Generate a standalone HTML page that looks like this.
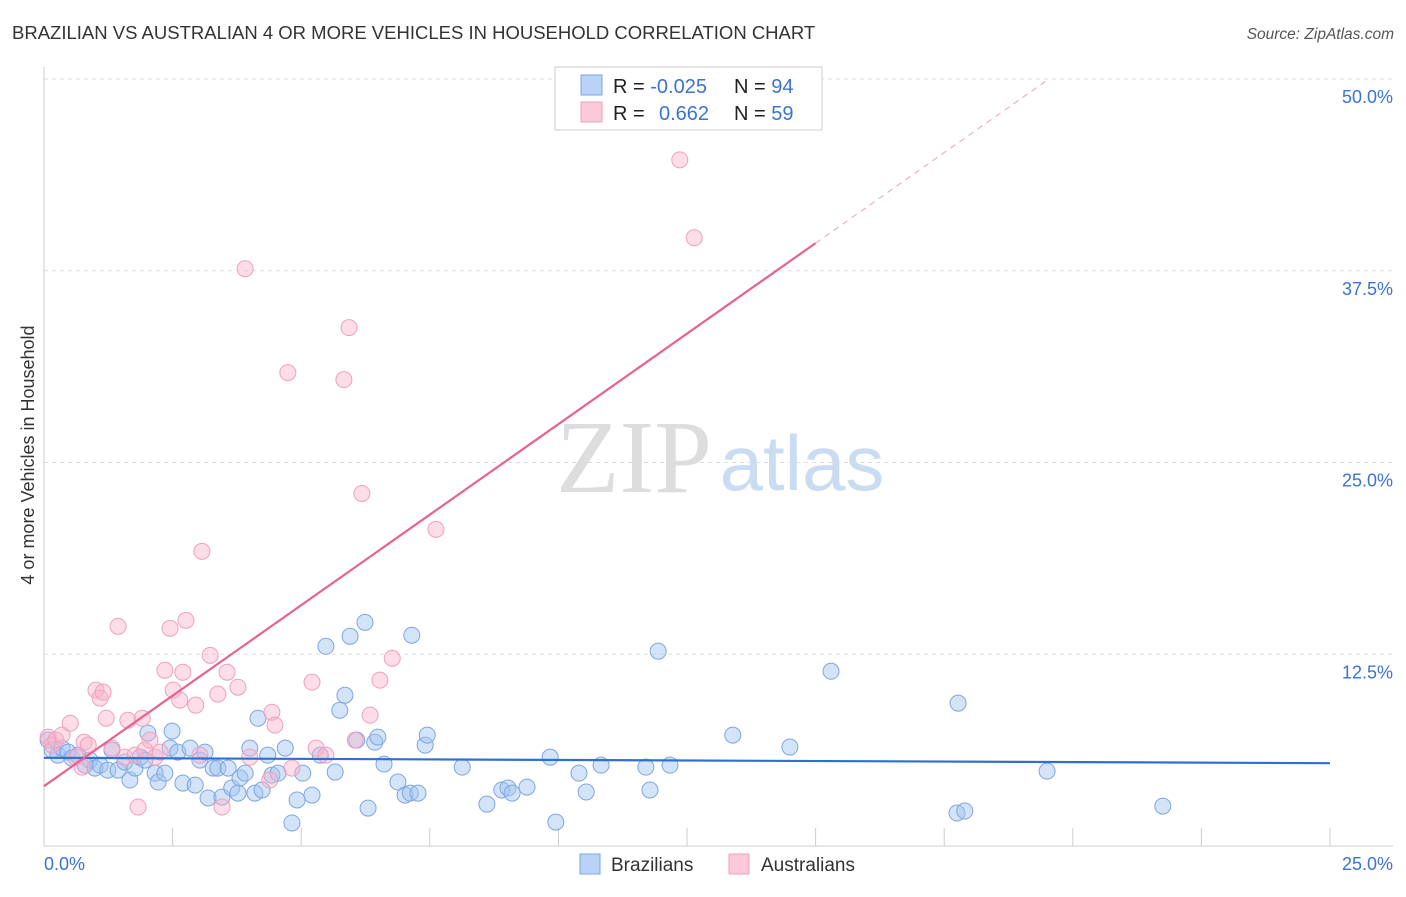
<!DOCTYPE html>
<html><head><meta charset="utf-8"><style>
body{margin:0;background:#fff;font-family:"Liberation Sans",sans-serif;}
svg text{font-family:"Liberation Sans",sans-serif;}
</style></head><body>
<svg id="chart" width="1406" height="892" xmlns="http://www.w3.org/2000/svg">
<text x="12" y="39" font-size="18.5" fill="#333">BRAZILIAN VS AUSTRALIAN 4 OR MORE VEHICLES IN HOUSEHOLD CORRELATION CHART</text>
<text x="1394" y="39" font-size="15.5" fill="#555" font-style="italic" text-anchor="end">Source: ZipAtlas.com</text>
<g>
<text x="634" y="492" font-size="104" fill="#ddd" text-anchor="middle" style="font-family:'Liberation Serif',serif">ZIP</text>
<text x="802" y="490" font-size="78" fill="#c9dcf2" text-anchor="middle">atlas</text>
</g>
<g id="grid"></g>
<g id="axes"></g>
<g id="marks"></g>
<text transform="translate(34,455) rotate(-90)" font-size="18" fill="#333" text-anchor="middle">4 or more Vehicles in Household</text>
<g>
<rect x="555" y="67" width="267" height="63" fill="#fff" stroke="#ccc"/>
<rect x="581" y="75" width="21" height="20" fill="#b9d3f6" stroke="#7ea6e0"/>
<rect x="581" y="102" width="21" height="20" fill="#fcc9d8" stroke="#f0a0bd"/>
<text x="613" y="93" font-size="20" fill="#222">R = <tspan fill="#3b73d1">-0.025</tspan></text>
<text x="734" y="93" font-size="20" fill="#222">N = <tspan fill="#3b73d1">94</tspan></text>
<text x="613" y="120" font-size="20" fill="#222">R = </text>
<text x="659" y="120" font-size="20" fill="#3b73d1">0.662</text>
<text x="734" y="120" font-size="20" fill="#222">N = <tspan fill="#3b73d1">59</tspan></text>
</g>
<g>
<rect x="580" y="854" width="20" height="20" fill="#b9d3f6" stroke="#7ea6e0"/>
<text x="611" y="871" font-size="19" fill="#333">Brazilians</text>
<rect x="729" y="854" width="20" height="20" fill="#fcc9d8" stroke="#f0a0bd"/>
<text x="761" y="871" font-size="19" fill="#333">Australians</text>
</g>
</svg>
<script>
const xTicks=[0,2.5,5,7.5,10,12.5,15,17.5,20,22.5,25];
const yTicks=[12.5,25,37.5,50];
const yTickLabels=["12.5%","25.0%","37.5%","50.0%"];
const braX=[0.08,0.16,0.27,0.35,0.47,0.54,0.66,0.80,0.89,0.99,1.09,1.24,1.32,1.44,1.57,1.67,1.77,1.87,1.96,2.02,2.16,2.22,2.35,2.45,2.49,2.60,2.70,2.84,2.94,3.03,3.13,3.19,3.29,3.38,3.46,3.58,3.65,3.77,3.81,3.91,4.00,4.10,4.16,4.24,4.35,4.43,4.55,4.69,4.82,4.92,5.03,5.21,5.37,5.48,5.66,5.75,5.85,5.95,6.08,6.24,6.30,6.43,6.49,6.61,6.88,7.02,7.12,7.15,7.27,7.41,7.45,8.13,8.61,8.90,9.02,9.10,9.39,9.84,9.95,10.40,10.54,10.83,11.70,11.78,11.94,12.17,13.39,14.50,15.30,17.75,17.77,17.90,19.50,21.75];
const braY=[6.9,6.25,5.92,6.38,6.12,5.73,5.92,5.27,5.6,5.08,5.27,4.95,6.25,4.95,5.47,4.3,5.08,5.79,5.6,7.36,4.75,4.17,4.75,6.38,7.49,6.12,4.1,6.38,3.97,5.6,6.12,3.13,5.08,5.08,3.19,5.08,3.78,3.45,4.43,4.75,6.38,3.45,8.33,3.65,5.92,4.62,4.75,6.38,1.5,3.0,4.75,3.32,5.92,13.02,4.82,8.85,9.83,13.67,6.9,14.58,2.47,6.77,7.1,5.34,4.17,3.32,3.45,13.74,3.45,6.58,7.23,5.14,2.73,3.65,3.78,3.45,3.84,5.79,1.56,4.75,3.52,5.27,5.14,3.65,12.7,5.27,7.23,6.45,11.39,2.15,9.31,2.28,4.88,2.6];
const ausX=[0.08,0.16,0.23,0.35,0.51,0.62,0.74,0.78,0.86,1.01,1.09,1.15,1.21,1.32,1.44,1.57,1.63,1.77,1.83,1.91,1.96,2.06,2.16,2.26,2.35,2.45,2.51,2.64,2.70,2.76,2.95,3.03,3.07,3.23,3.38,3.46,3.56,3.77,3.91,4.00,4.43,4.49,4.39,4.74,4.82,5.21,5.29,5.48,5.83,5.93,6.05,6.18,6.34,6.53,6.77,7.62,12.36,12.64];
const ausY=[7.1,6.58,6.9,7.23,8.0,5.79,5.14,6.77,6.58,10.16,9.64,10.03,8.33,6.38,14.32,5.79,8.2,5.92,2.54,8.33,6.25,6.9,5.79,6.12,11.46,14.19,10.16,9.51,11.33,14.71,9.18,5.92,19.21,12.43,9.9,2.54,11.33,10.35,37.63,5.79,8.72,7.88,4.3,30.86,5.08,10.68,6.38,5.92,30.4,33.79,6.9,22.98,8.53,10.81,12.24,20.64,44.73,39.65];
const braTrend=[5.75,5.4];
const ausTrend=[3.9,2.36];
const X=v=>44+v*(1286/25), Y=v=>846-v*(767/50);
const NS="http://www.w3.org/2000/svg";
function mk(p,t,a){const e=document.createElementNS(NS,t);for(const k in a)e.setAttribute(k,a[k]);p.appendChild(e);return e;}
const grid=document.getElementById('grid'),axes=document.getElementById('axes'),marks=document.getElementById('marks');
yTicks.forEach((t,i)=>{
 const l=mk(grid,'line',{x1:44,x2:1393,y1:Y(t),y2:Y(t),stroke:'#ddd','stroke-dasharray':'4,4'});
 
 
 const tx=mk(axes,'text',{x:1393,y:Y(t)+24,'font-size':18,fill:'#3b73d1','text-anchor':'end'});
 tx.textContent=yTickLabels[i];
 
 
});
const ya=mk(axes,'line',{x1:44,x2:44,y1:67,y2:846,stroke:'#ccc'});


const xa=mk(axes,'line',{x1:44,x2:1393,y1:846,y2:846,stroke:'#ccc'});


xTicks.forEach(t=>{const l=mk(axes,'line',{x1:X(t),x2:X(t),y1:828,y2:846,stroke:'#ccc'});
 
 });
let t0=mk(axes,'text',{x:44,y:870,'font-size':18,fill:'#3b73d1'});t0.textContent='0.0%';


let t1=mk(axes,'text',{x:1393,y:870,'font-size':18,fill:'#3b73d1','text-anchor':'end'});t1.textContent='25.0%';


braX.forEach((x,i)=>{const c=mk(marks,'circle',{cx:X(x),cy:Y(braY[i]),r:8,fill:'rgba(160,195,240,0.45)',stroke:'#7ea6e0','stroke-width':1});
 
 });
ausX.forEach((x,i)=>{const c=mk(marks,'circle',{cx:X(x),cy:Y(ausY[i]),r:8,fill:'rgba(248,180,205,0.45)',stroke:'#f0a0bd','stroke-width':1});
 
 });
const bt=mk(marks,'line',{x1:X(0),y1:Y(braTrend[0]),x2:X(25),y2:Y(braTrend[1]),stroke:'#2f6fd0','stroke-width':2.2});


const xs=15, xe=(50-ausTrend[0])/ausTrend[1];
const at=mk(marks,'line',{x1:X(0),y1:Y(ausTrend[0]),x2:X(xs),y2:Y(ausTrend[0]+ausTrend[1]*xs),stroke:'#e8628f','stroke-width':2.2});


const ad=mk(marks,'line',{x1:X(xs),y1:Y(ausTrend[0]+ausTrend[1]*xs),x2:X(xe),y2:Y(50),stroke:'#eeb0c4','stroke-width':1.2,'stroke-dasharray':'6,5'});


</script>
</body></html>
